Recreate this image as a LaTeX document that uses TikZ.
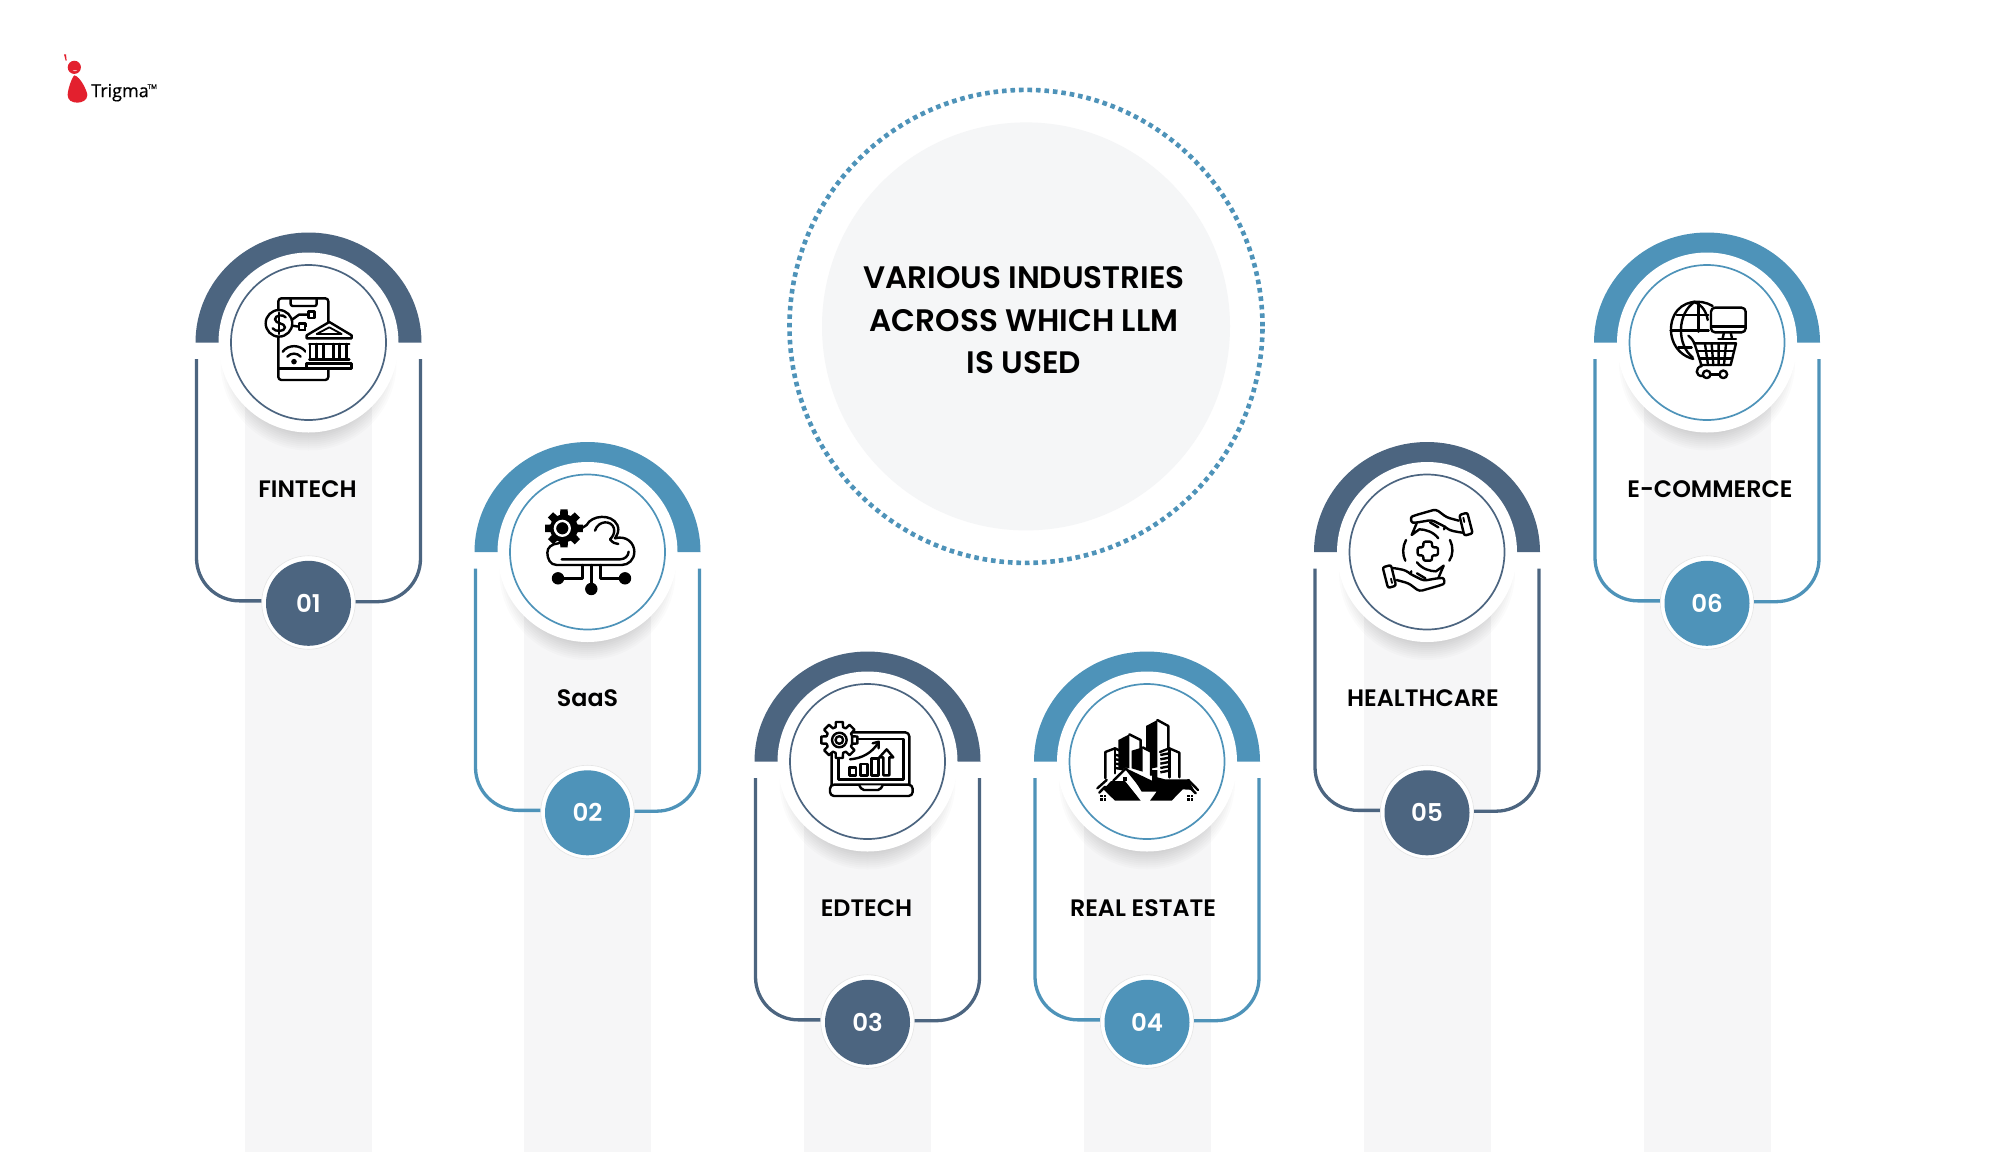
\documentclass[tikz,border=0pt]{standalone}
\usepackage{fontspec}
\newfontfamily\semi{Poppins SemiBold}
\newfontfamily\logof[FakeBold=0.5]{Open Sans}
\definecolor{slatec}{HTML}{4C6580}
\definecolor{bluec}{HTML}{4E93B9}
\definecolor{bandc}{HTML}{F6F6F7}
\definecolor{hubc}{HTML}{F5F6F7}
\definecolor{redc}{HTML}{E3202E}
\tikzset{
  iconscope/.style 2 args={shift={(#1,#2)},x=0.3333pt,y=-0.3333pt},
  icon/.style={line width=2.4pt,draw=black,line cap=round,line join=round},
  thinicon/.style={line width=1.8pt,draw=black,line cap=round,line join=round},
  disc/.style={circle,fill=white,minimum size=180pt,inner sep=0pt},
  ringc/.style={circle,draw=#1,line width=1.7pt,minimum size=155pt,inner sep=0pt},
  numring/.style={circle,fill=white,draw=black!10,line width=.6pt,minimum size=93.5pt,inner sep=0pt},
  numdot/.style={circle,fill=#1,minimum size=85pt,inner sep=0pt,text=white,font=\semi\fontsize{24.5}{25}\selectfont},
  cardlabel/.style={font=\semi\fontsize{23.8}{25}\selectfont,text=black,inner sep=0pt},
}
% name, cx, cy, colour, label, label dx, number
\newcommand\card[7]{%
  \fill[bandc] (#2-63.5,#3) rectangle (#2+63.5,1152);
  \begin{scope}
    \clip (#2-120,#3) rectangle (#2+120,#3+140);
    \foreach \r in {72,74,...,88}{\fill[black,opacity=.014] (#2,#3+20) circle[radius=\r pt];}
  \end{scope}
  \fill[#4] (#2-113,#3) arc[start angle=180,end angle=360,x radius=113,y radius=110] -- cycle;
  \node[disc] (#1disc) at (#2,#3) {};
  \node[ringc=#4] (#1ring) at (#2,#3) {};
  \node[numring] (#1numring) at (#2,#3+260) {};
  \coordinate (#1tl) at (#2-112,#3+16.5);
  \coordinate (#1tr) at (#2+112,#3+16.5);
  \draw[#4,line width=3.3pt,rounded corners=43pt] (#1tl) -- (#1tl |- #1numring.178.5) -- (#1numring.178.5);
  \draw[#4,line width=3.3pt,rounded corners=43pt] (#1tr) -- (#1tr |- #1numring.1.5) -- (#1numring.1.5);
  \node[numdot=#4] (#1num) at (#2,#3+260.8) {#7};
  \node[cardlabel] (#1label) at (#2+#6,#3+146.6) {#5};
}
% cx cy ro ri teeth
\newcommand\gearteeth[5]{%
  ({#1+#4*cos(16)},{#2+#4*sin(16)})
  \foreach \i [evaluate=\i as \a using \i*360/#5] in {0,...,#5}{
    -- ({#1+#4*cos(\a-16)},{#2+#4*sin(\a-16)})
    -- ({#1+#3*cos(\a-11)},{#2+#3*sin(\a-11)})
    -- ({#1+#3*cos(\a+11)},{#2+#3*sin(\a+11)})
    -- ({#1+#4*cos(\a+16)},{#2+#4*sin(\a+16)})
  }
}
\begin{document}
\begin{tikzpicture}[x=1pt,y=-1pt]
\useasboundingbox (0,0) rectangle (2016,1152);
\fill[white] (0,0) rectangle (2016,1152);

% logo
\begin{scope}[iconscope={40}{40}]
  \fill[redc] (103,82) circle[radius=6.6pt];
  \fill[white] (98,90) .. controls (102,95) and (108,95) .. (112,90) .. controls (108,92) and (102,92) .. (98,90) -- cycle;
  \fill[redc] (103,106) .. controls (122,110) and (142,155) .. (142,165) .. controls (142,180) and (127,188) .. (112,188) .. controls (95,188) and (83,180) .. (83,165) .. controls (83,150) and (95,113) .. (103,106) -- cycle;
  \fill[redc] (72,43) -- (78,43) -- (80,62) -- (77,62) -- cycle;
  \node[anchor=west,inner sep=0pt,font=\logof\fontsize{18}{18}\selectfont] (logotext) at (153,158) {Trigma};
  \node[anchor=west,inner sep=0pt,font=\logof\fontsize{6.5}{7}\selectfont] (logotm) at (322,140) {TM};
\end{scope}

% central circle
\node[circle,fill=hubc,minimum size=408pt,inner sep=0pt] (hub) at (1026,326.4) {};
\node[circle,draw=bluec,line width=4.6pt,dash pattern=on 4.6pt off 3.9pt,minimum size=473pt,inner sep=0pt] (hubring) at (1026,326.4) {};
\node[font=\semi\fontsize{31.1}{42.4}\selectfont,align=center,text=black,inner sep=0pt] (title) at (1024,320.4) {VARIOUS INDUSTRIES\\ACROSS WHICH LLM\\IS USED};

\card{a}{308.5}{342.5}{slatec}{FINTECH}{-1}{01}
\card{b}{587.5}{552}{bluec}{SaaS}{0}{02}
\card{c}{867.5}{761.5}{slatec}{EDTECH}{-1}{03}
\card{d}{1147}{761.5}{bluec}{REAL ESTATE}{-4}{04}
\card{e}{1427}{552}{slatec}{HEALTHCARE}{-4}{05}
\card{f}{1707}{342.5}{bluec}{E-COMMERCE}{3}{06}

% icon 1: fintech
\begin{scope}[iconscope={170}{210}]
  \draw[icon,rounded corners=3pt] (325,265) rectangle (475,510);
  \draw[icon] (325,475) -- (412,475);
  \draw[icon,rounded corners=2pt] (362,268) -- (362,288) -- (440,288) -- (440,268);
  \draw[icon,fill=white] (327,340) circle[radius=13.3pt];
  \draw[icon] (347,322) .. controls (340,312) and (315,315) .. (315,328) .. controls (315,342) and (345,338) .. (345,352) .. controls (345,366) and (315,366) .. (308,355);
  \draw[icon] (327,308) -- (327,372);
  \draw[icon] (365,330) -- (387,314) -- (415,314);
  \draw[icon] (366,347) -- (387,350);
  \draw[icon,fill=white] (415,305) rectangle (434,324);
  \draw[icon,fill=white] (387,341) rectangle (406,360);
  \fill[black] (372,455) circle[radius=2.8pt];
  \draw[icon] (352,440) .. controls (362,428) and (382,428) .. (392,440);
  \draw[icon] (338,425) .. controls (355,403) and (390,403) .. (407,425);
  \fill[white] (408,350) rectangle (547,477);
  \draw[icon,fill=white] (410,376) -- (478,336) -- (545,376) -- (545,385) -- (410,385) -- cycle;
  \draw[thinicon] (440,372) -- (478,352) -- (515,372) -- cycle;
  \draw[icon] (418,402) -- (538,402);
  \draw[icon] (420,402) -- (420,448) (440,402) -- (440,448);
  \draw[icon] (460,402) -- (460,448) (490,402) -- (490,448);
  \draw[icon] (508,402) -- (508,448) (530,402) -- (530,448);
  \draw[icon] (418,449) -- (538,449);
  \draw[icon] (410,460) rectangle (545,475);
\end{scope}

% icon 2: saas
\begin{scope}[iconscope={490}{470}]
  \draw[icon,fill=white] (200,285) .. controls (180,285) and (172,265) .. (172,248) .. controls (172,232) and (185,222) .. (205,220)
     -- (290,165) .. controls (305,135) and (365,130) .. (382,165) .. controls (390,185) and (380,195) .. (375,205)
     .. controls (410,195) and (433,220) .. (433,245) .. controls (433,270) and (415,285) .. (395,285) -- cycle;
  \fill[white] (240,215) -- (300,165) -- (300,250) -- (240,250) -- cycle;
  \draw[icon] (215,268) -- (390,268) .. controls (405,268) and (415,258) .. (416,245);
  \draw[icon] (315,182) .. controls (325,150) and (365,150) .. (372,175) .. controls (375,190) and (368,200) .. (360,208) .. controls (370,220) and (375,220) .. (385,222);
  \draw[icon] (304,285) -- (304,350);
  \draw[icon] (277,285) -- (277,325) -- (205,325);
  \draw[icon] (332,285) -- (332,325) -- (405,325);
  \fill[black] (304,357) circle[radius=6.2pt] (204,325) circle[radius=6.2pt] (405,325) circle[radius=6.2pt];
  \fill[black] \gearteeth{222}{175}{58}{42}{8} -- cycle;
  \draw[white,line width=2.4pt] (217,175) circle[radius=7.4pt];
  \fill[black] (217,175) circle[radius=4.2pt];
\end{scope}

% icon 3: edtech
\begin{scope}[iconscope={770}{690}]
  \draw[icon,rounded corners=4pt] (185,285) -- (185,127) -- (418,127) -- (418,285);
  \draw[icon] (205,147) -- (400,147) -- (400,268) -- (205,268) -- cycle;
  \draw[icon,rounded corners=4pt] (180,284) rectangle (428,318);
  \draw[icon,rounded corners=2pt,fill=white] (268,286) -- (276,300) -- (330,300) -- (338,286);
  \draw[icon,fill=white] \gearteeth{208}{150}{55}{40}{8} -- cycle;
  \draw[icon] (208,150) circle[radius=7.3pt];
  \draw[icon] (208,150) circle[radius=3.8pt];
  \draw[icon] (238,232) rectangle (258,256);
  \draw[icon] (272,222) rectangle (293,256);
  \draw[icon] (305,205) rectangle (326,256);
  \draw[icon] (340,256) -- (340,202) -- (328,202) -- (350,178) -- (370,202) -- (358,202) -- (358,256) -- cycle;
  \draw[icon] (240,208) .. controls (275,205) and (305,190) .. (325,158);
  \draw[icon] (308,160) -- (326,155) -- (326,175);
\end{scope}

% icon 4: real estate
\begin{scope}[iconscope={1050}{690}]
  \draw[icon] (166,265) -- (166,186) -- (195,175) -- (225,190) -- (225,240);
  \draw[icon] (195,175) -- (195,250);
  \foreach \y in {195,208,221,234}{\draw[line width=2.4pt,black] (197,\y) -- (224,\y+5);}
  \fill[black] (205,150) -- (238,133) -- (238,235) -- (205,235) -- cycle;
  \draw[icon] (238,133) -- (272,150) -- (272,176);
  \fill[black] (245,182) -- (278,172) -- (278,245) -- (245,235) -- cycle;
  \draw[icon] (278,172) -- (303,185) -- (303,255);
  \fill[black] (288,108) -- (322,90) -- (322,232) -- (306,235) -- (306,184) -- (288,176) -- cycle;
  \draw[icon] (322,90) -- (355,108) -- (355,178);
  \draw[icon] (330,186) -- (358,175) -- (388,188) -- (388,262);
  \draw[icon] (358,175) -- (358,262);
  \foreach \y in {195,208,221,234,247}{\draw[line width=2.4pt,black] (331,\y) -- (357,\y-5);}
  \fill[white] (185,272) -- (228,232) -- (306,270) -- (306,240) -- (322,240) -- (322,262) -- (350,268) -- (415,268) -- (415,332) -- (160,332) -- cycle;
  \fill[black] (160,298) -- (183,273) -- (225,273) -- (272,332) -- (195,332) -- cycle;
  \fill[black] (235,238) -- (306,272) -- (306,240) -- (322,240) -- (322,262) -- (345,268) -- (415,268) -- (432,300) -- (398,298) -- (365,332) -- (300,332) -- (320,305) -- (275,305) -- cycle;
  \draw[icon] (190,272) -- (228,235) -- (280,300);
  \draw[icon] (142,295) -- (170,270);
  \draw[icon] (148,308) -- (165,290);
  \draw[icon] (415,270) -- (444,300);
  \draw[icon] (412,285) -- (437,310);
  \fill[black] (218,262) rectangle (232,274);
  \fill[black] (150,315) rectangle (168,332);
  \fill[black] (411,315) rectangle (429,332);
  \draw[white,line width=.6pt] (159,315) -- (159,332) (150,323) -- (168,323) (420,315) -- (420,332) (411,323) -- (429,323);
\end{scope}

% icon 5: healthcare
\begin{scope}[iconscope={1330}{470}]
  \draw[icon,rounded corners=2pt] (263,232) -- (280,232) -- (280,215) -- (306,215) -- (306,232) -- (324,232) -- (324,256) -- (306,256) -- (306,272) -- (280,272) -- (280,256) -- (263,256) -- cycle;
  \foreach \r in {0,180}{
  \begin{scope}[rotate around={\r:(293,241)}]
    \draw[icon,rounded corners=2pt] (388,135) -- (412,128) -- (428,190) -- (403,197) -- cycle;
    \draw[thinicon] (400,143) -- (403,156);
    \draw[icon,rounded corners=3pt] (386,152) -- (350,142) -- (318,118) -- (255,136) .. controls (240,142) and (243,158) .. (258,158) -- (305,150) -- (345,170) .. controls (360,182) and (375,185) .. (398,188);
    \draw[icon] (345,170) -- (342,178);
    \draw[icon] (260,160) -- (245,195) -- (268,178) .. controls (285,178) and (310,185) .. (325,205);
    \draw[icon] (300,157) -- (325,172);
  \end{scope}
  }
  \draw[icon] (228,210) .. controls (217,230) and (217,255) .. (226,272);
  \draw[icon] (358,272) .. controls (370,255) and (370,230) .. (360,210);
\end{scope}

% icon 6: e-commerce
\begin{scope}[iconscope={1610}{270}]
  \draw[icon] (308,108) .. controls (270,85) and (215,92) .. (193,135) .. controls (170,180) and (185,250) .. (250,267);
  \draw[icon] (255,95) .. controls (200,130) and (200,225) .. (248,262);
  \draw[icon] (250,95) .. controls (280,105) and (290,130) .. (293,150);
  \draw[icon] (265,97) -- (265,185);
  \draw[icon] (200,135) -- (295,135);
  \draw[icon] (182,182) -- (296,182);
  \draw[icon] (205,233) -- (245,233);
  \draw[icon,rounded corners=4pt] (303,113) rectangle (407,187);
  \draw[icon] (303,170) -- (407,170);
  \draw[icon] (342,187) -- (338,205) (362,187) -- (366,205);
  \draw[icon] (325,207) -- (378,207);
  \draw[icon] (235,197) .. controls (245,205) and (250,212) .. (255,225) -- (275,288);
  \draw[icon] (252,220) -- (378,220) -- (362,285) -- (272,285);
  \draw[icon] (262,243) -- (372,243) (268,265) -- (366,265);
  \draw[icon] (285,222) -- (294,285) (305,222) -- (310,285) (326,222) -- (326,285) (348,222) -- (342,285);
  \draw[icon] (275,288) .. controls (255,292) and (255,320) .. (278,318);
  \draw[icon] (290,313) circle[radius=3.8pt];
  \draw[icon] (340,313) circle[radius=3.8pt];
  \draw[icon] (303,313) -- (327,313);
\end{scope}
\end{tikzpicture}
\end{document}
